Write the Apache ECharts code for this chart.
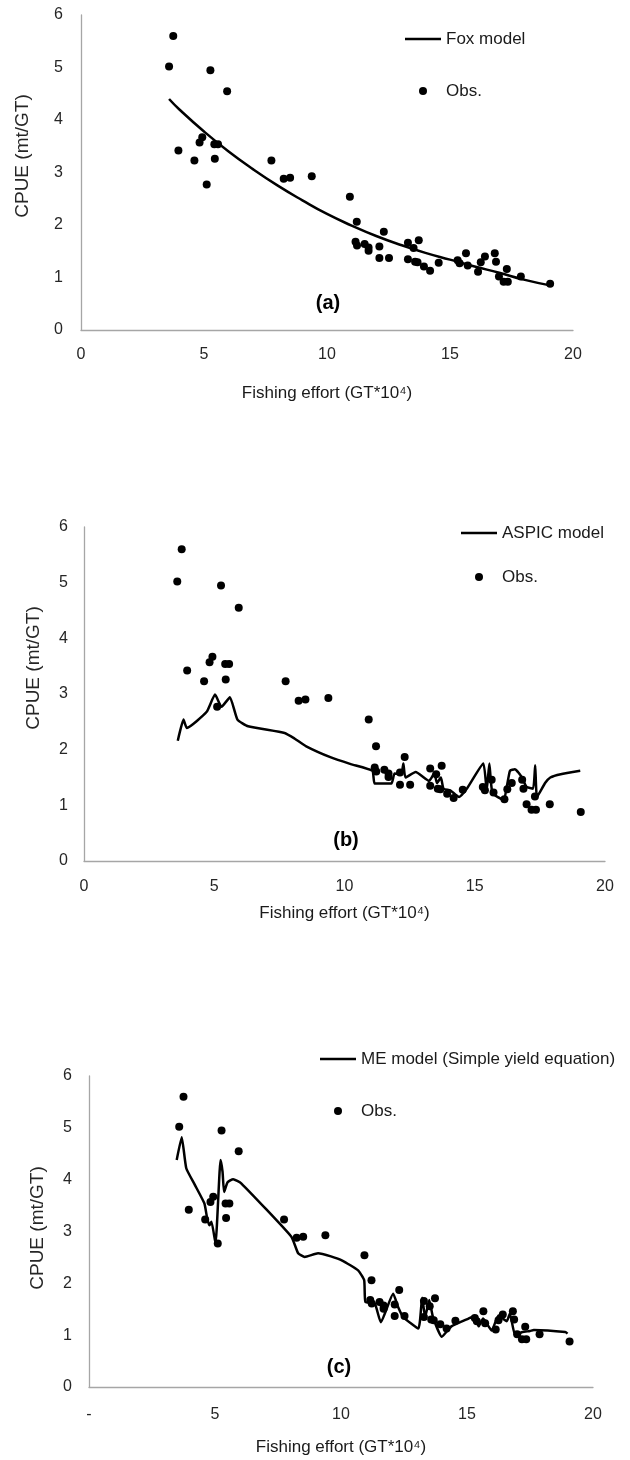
<!DOCTYPE html>
<html>
<head>
<meta charset="utf-8">
<script src="https://cdn.jsdelivr.net/npm/echarts@6/dist/echarts.min.js"></script>
<style>
html,body{margin:0;padding:0;background:#fff;}
#chart{width:630px;height:1460px;}
</style>
</head>
<body>
<div id="chart"></div>
<script>
// Observed CPUE vs fishing effort (same observations in all three panels)
const effortObs = [3.58,3.75,3.96,4.61,4.82,4.93,5.11,5.26,5.42,5.44,5.57,5.94,7.74,8.24,8.50,9.38,10.93,11.21,11.16,11.22,11.53,11.69,11.69,12.13,12.13,12.31,12.52,13.29,13.29,13.52,13.58,13.73,13.68,13.94,14.19,14.54,15.31,15.39,15.65,15.72,16.14,16.25,16.42,16.82,16.87,16.99,17.18,17.35,17.31,17.88,19.07];
const cpueObs   = [5.02,5.60,3.42,3.23,3.57,3.67,2.77,4.95,3.54,3.26,3.54,4.55,3.23,2.88,2.90,2.93,2.54,2.06,1.68,1.61,1.64,1.57,1.51,1.59,1.37,1.87,1.37,1.66,1.35,1.56,1.30,1.71,1.29,1.21,1.13,1.28,1.33,1.27,1.46,1.23,1.11,1.29,1.40,1.46,1.30,1.02,0.92,0.92,1.16,1.02,0.88];

// (a) Fox model
const foxEffort = [3.58,4,5,6,7,8,9,10,11,12,13,14,15,16,17,18,19.07];
const foxCpue   = [4.40,4.20,3.78,3.40,3.06,2.75,2.47,2.21,1.99,1.79,1.62,1.47,1.34,1.21,1.09,0.96,0.85];

// (b) ASPIC model
const aspicEffort = [3.60,3.82,3.95,4.71,5.03,5.28,5.60,5.89,6.30,7.70,8.08,8.53,9.48,10.24,11.07,11.16,11.80,11.92,12.18,12.26,12.34,12.73,13.25,13.45,13.55,13.70,13.80,14.06,14.40,14.70,15.33,15.46,15.56,15.68,16.10,16.35,16.54,16.80,16.99,17.24,17.32,17.39,17.70,17.90,18.30,19.05];
const aspicCpue   = [2.16,2.54,2.39,2.68,2.99,2.77,2.94,2.54,2.42,2.30,2.20,2.06,1.86,1.74,1.62,1.39,1.39,1.57,1.56,1.75,1.50,1.60,1.44,1.58,1.40,1.50,1.30,1.27,1.15,1.30,1.75,1.27,1.75,1.22,1.10,1.62,1.65,1.51,1.33,1.30,1.72,1.15,1.40,1.50,1.56,1.62];

// (c) ME model (Simple yield equation)
const meEffort = [3.48,3.68,3.86,4.20,4.58,4.69,4.78,4.86,5.02,5.22,5.30,5.36,5.50,5.72,6.04,8.03,8.30,8.56,9.09,9.60,10.05,10.68,10.92,10.97,11.34,11.58,12.07,12.27,12.47,13.07,13.22,13.34,13.50,13.65,14.00,14.38,15.06,15.30,15.46,15.64,15.98,16.25,16.58,16.70,16.91,17.20,17.50,17.65,18.90,18.99];
const meCpue   = [4.38,4.82,4.22,3.90,3.54,3.25,3.12,3.19,2.77,4.38,4.15,3.76,3.95,4.01,3.93,2.90,2.58,2.51,2.58,2.52,2.44,2.25,2.06,1.64,1.61,1.25,1.80,1.54,1.35,1.13,1.72,1.35,1.68,1.35,0.97,1.17,1.32,1.37,1.17,1.32,1.09,1.38,1.27,1.42,1.00,1.06,1.08,1.10,1.06,1.03];

const panelLabels = ['(a)','(b)','(c)'];
const modelNames = ['Fox model','ASPIC model','ME model (Simple yield equation)'];
const obsName = 'Obs.';
const xTitle = 'Fishing effort (GT*10\u2074)';
const yTitle = 'CPUE (mt/GT)';

const FONT = '"Liberation Sans", Arial, sans-serif';
const pairs = (xs, ys) => xs.map((x, i) => [x, ys[i]]);

const grids = [
  {left: 81, top: 15, width: 492, height: 315},
  {left: 84, top: 527, width: 521, height: 334},
  {left: 89, top: 1076, width: 504, height: 311}
];
const xLabelMargin = [17, 18, 20];
const yLabelMargin = [18, 16, 17];
const xNameGap = [55, 44, 52];

const xAxes = grids.map((g, i) => ({
  gridIndex: i, type: 'value', min: 0, max: 20, interval: 5,
  axisLine: {show: true, onZero: false, lineStyle: {color: '#a6a6a6', width: 1.3}},
  axisTick: {show: false}, splitLine: {show: false},
  axisLabel: {margin: xLabelMargin[i], fontSize: 16, color: '#262626', fontFamily: FONT,
    formatter: v => (i === 2 && v === 0) ? '-' : String(v)},
  name: xTitle, nameLocation: 'middle', nameGap: xNameGap[i],
  nameTextStyle: {fontSize: 17, color: '#1a1a1a', fontFamily: FONT}
}));
const yAxes = grids.map((g, i) => ({
  gridIndex: i, type: 'value', min: 0, max: 6, interval: 1,
  axisLine: {show: true, onZero: false, lineStyle: {color: '#a6a6a6', width: 1.3}},
  axisTick: {show: false}, splitLine: {show: false},
  axisLabel: {margin: yLabelMargin[i], fontSize: 16, color: '#262626', fontFamily: FONT}
}));

const lineData = [pairs(foxEffort, foxCpue), pairs(aspicEffort, aspicCpue), pairs(meEffort, meCpue)];
const smoothness = [true, 0.15, 0.15];
const series = [];
for (let i = 0; i < 3; i++) {
  series.push({
    name: modelNames[i], type: 'line', xAxisIndex: i, yAxisIndex: i,
    data: lineData[i], symbol: 'none', showSymbol: false, smooth: smoothness[i],
    lineStyle: {color: '#000', width: 2.5}, itemStyle: {color: '#000'}, z: 2
  });
  series.push({
    name: obsName, type: 'scatter', xAxisIndex: i, yAxisIndex: i,
    data: pairs(effortObs, cpueObs), symbol: 'circle', symbolSize: 8,
    itemStyle: {color: '#000', opacity: 1}, z: 3
  });
}

const LINE_ICON = 'path://M0,0 L36,0 L36,2.5 L0,2.5 Z';
const legendPos = [{left: 405, top: 29, gap: 32}, {left: 461, top: 523, gap: 24}, {left: 320, top: 1049, gap: 32}];
const legends = legendPos.map((p, i) => ({
  orient: 'vertical', left: p.left, top: p.top, itemGap: p.gap, padding: 0,
  itemWidth: 36, itemHeight: 8, selectedMode: false,
  data: [{name: modelNames[i], icon: LINE_ICON, itemStyle: {color: '#000', opacity: 1}},
         {name: obsName, icon: 'circle', itemStyle: {color: '#000', opacity: 1}}],
  textStyle: {fontSize: 17, color: '#1a1a1a', fontFamily: FONT, lineHeight: 20}
}));

const panelLabelPos = [[328, 303], [346, 840], [339, 1367]];
const yTitlePos = [[23, 156], [34, 668], [38, 1228]];
const graphics = [];
for (let i = 0; i < 3; i++) {
  graphics.push({type: 'text', x: panelLabelPos[i][0], y: panelLabelPos[i][1],
    style: {text: panelLabels[i], font: 'bold 20px ' + FONT, fill: '#000',
      align: 'center', verticalAlign: 'middle', textAlign: 'center', textVerticalAlign: 'middle'}});
  graphics.push({type: 'text', x: yTitlePos[i][0], y: yTitlePos[i][1], rotation: Math.PI / 2,
    style: {text: yTitle, font: '19px ' + FONT, fill: '#262626',
      align: 'center', verticalAlign: 'middle', textAlign: 'center', textVerticalAlign: 'middle'}});
}

const chart = echarts.init(document.getElementById('chart'), null, {renderer: 'canvas'});
chart.setOption({
  animation: false,
  backgroundColor: '#fff',
  grid: grids,
  xAxis: xAxes,
  yAxis: yAxes,
  legend: legends,
  graphic: graphics,
  series: series
});
</script>
</body>
</html>
